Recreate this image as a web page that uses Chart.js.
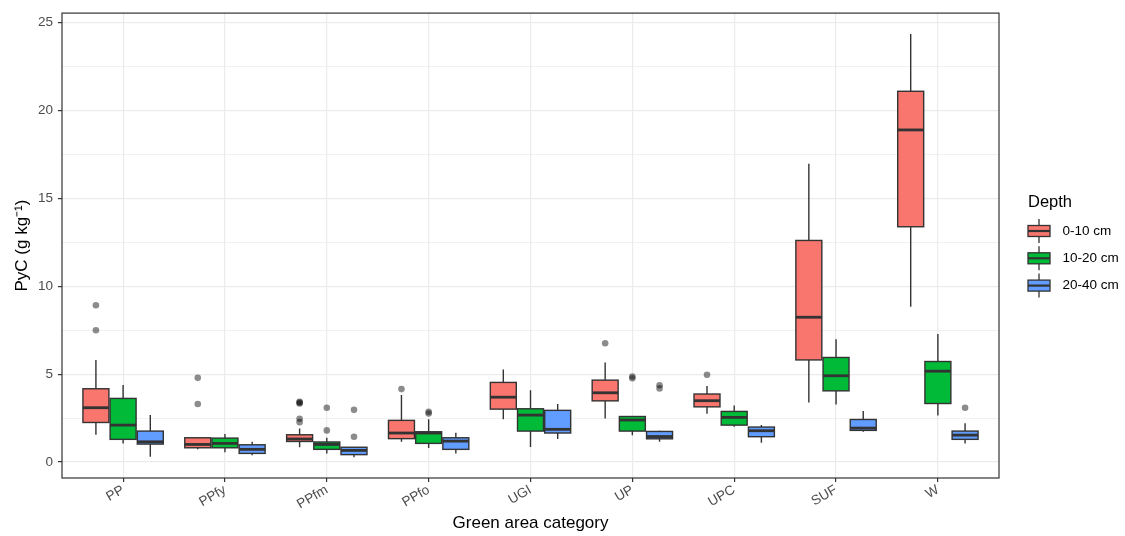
<!DOCTYPE html>
<html><head><meta charset="utf-8">
<script src="https://cdn.jsdelivr.net/npm/chart.js@4.4.1/dist/chart.umd.min.js"></script>
<style>html,body{margin:0;padding:0;background:#fff;} #wrap{width:1125px;height:536px;position:relative;}</style>
</head><body><div id="wrap"><canvas id="c" width="1125" height="536"></canvas></div>
<script>
const CATEGORIES = ['PP','PPfy','PPfm','PPfo','UGI','UP','UPC','SUF','W'];
const DEPTHS = ['0-10 cm','10-20 cm','20-40 cm'];
const Y_TICKS = [0,2.5,5,7.5,10,12.5,15,17.5,20,22.5,25];

// [lower whisker, Q1, median, Q3, upper whisker] per category
const BOX_0_10 = [
  [1.55,2.25,3.09,4.17,5.80],
  [0.72,0.81,1.00,1.38,1.40],
  [0.84,1.17,1.31,1.55,1.91],
  [1.15,1.33,1.65,2.37,3.81],
  [2.44,3.01,3.69,4.53,5.27],
  [2.48,3.48,3.94,4.66,5.66],
  [2.75,3.14,3.49,3.87,4.33],
  [3.39,5.81,8.24,12.61,16.97],
  [8.83,13.39,18.90,21.10,24.36]
];
const BOX_10_20 = [
  [1.06,1.29,2.10,3.62,4.39],
  [0.55,0.81,1.06,1.36,1.59],
  [0.49,0.72,1.00,1.14,1.38],
  [0.80,1.06,1.65,1.72,2.44],
  [0.85,1.76,2.67,3.03,4.09],
  [1.53,1.76,2.39,2.59,2.62],
  [2.01,2.10,2.54,2.88,3.22],
  [3.28,4.05,4.91,5.95,6.99],
  [2.65,3.33,5.17,5.72,7.29]
];
const BOX_20_40 = [
  [0.30,1.02,1.15,1.76,2.67],
  [0.38,0.49,0.72,0.98,1.15],
  [0.27,0.42,0.66,0.84,0.86],
  [0.49,0.72,1.19,1.38,1.67],
  [1.31,1.65,1.86,2.94,3.30],
  [1.15,1.32,1.45,1.74,1.78],
  [1.10,1.44,1.78,1.99,2.10],
  [1.72,1.80,1.93,2.42,2.90],
  [1.06,1.29,1.53,1.76,2.20]
];
// outliers per category
const OUT_0_10 = [[8.92,7.50],[4.79,3.30],[3.43,3.38,3.33,2.46,2.27],[4.15],[],[6.76],[4.96],[],[]];
const OUT_10_20 = [[],[],[3.09,1.80],[2.86,2.76],[],[4.87,4.77],[],[],[]];
const OUT_20_40 = [[],[],[2.97,1.44],[],[],[4.37,4.19],[],[],[3.09]];

const COLORS = ['#F8766D','#00BA38','#619CFF'];
const BOXES = [BOX_0_10, BOX_10_20, BOX_20_40];
const OUTS = [OUT_0_10, OUT_10_20, OUT_20_40];
const DODGE = [-0.267, 0, 0.267];
const BOX_WIDTH = 0.255;
const LINE = '#333333';
const FONT = "'Liberation Sans', Arial, sans-serif";

const datasets = OUTS.map((series, d) => ({
  label: DEPTHS[d] + ' outliers',
  data: series.flatMap((vals, i) => vals.map(v => ({x: i + 1 + DODGE[d], y: v}))),
  pointRadius: 3.3,
  pointHoverRadius: 3.3,
  backgroundColor: 'rgba(0,0,0,0.45)',
  borderWidth: 0,
  showLine: false
}));

const boxPlugin = {
  id: 'boxes',
  beforeDatasetsDraw(chart) {
    const {ctx, scales: {x, y}} = chart;
    const unit = x.getPixelForValue(1) - x.getPixelForValue(0);
    const half = BOX_WIDTH * unit / 2;
    BOXES.forEach((series, d) => {
      series.forEach((b, i) => {
        const cx = x.getPixelForValue(i + 1 + DODGE[d]);
        const [lo, q1, med, q3, hi] = b.map(v => y.getPixelForValue(v));
        ctx.save();
        ctx.strokeStyle = LINE;
        ctx.lineWidth = 1.4;
        ctx.beginPath();
        ctx.moveTo(cx, hi); ctx.lineTo(cx, q3);
        ctx.moveTo(cx, q1); ctx.lineTo(cx, lo);
        ctx.stroke();
        ctx.fillStyle = COLORS[d];
        ctx.fillRect(cx - half, q3, 2 * half, q1 - q3);
        ctx.strokeRect(cx - half, q3, 2 * half, q1 - q3);
        ctx.lineWidth = 2.8;
        ctx.beginPath();
        ctx.moveTo(cx - half, med); ctx.lineTo(cx + half, med);
        ctx.stroke();
        ctx.restore();
      });
    });
  },
  afterDraw(chart) {
    const {ctx, chartArea: a} = chart;
    ctx.save();
    ctx.strokeStyle = LINE;
    ctx.lineWidth = 1.2;
    ctx.strokeRect(a.left, a.top, a.right - a.left, a.bottom - a.top);
    // legend
    ctx.fillStyle = '#000';
    ctx.font = '16.5px ' + FONT;
    ctx.textAlign = 'left';
    ctx.textBaseline = 'alphabetic';
    ctx.fillText('Depth', 1028, 206.5);
    DEPTHS.forEach((lab, d) => {
      const cy = 231 + d * 27.3;
      const kx = 1028, kw = 22;
      ctx.strokeStyle = LINE;
      ctx.lineWidth = 1.3;
      ctx.beginPath();
      ctx.moveTo(kx + kw / 2, cy - 12); ctx.lineTo(kx + kw / 2, cy - 5.5);
      ctx.moveTo(kx + kw / 2, cy + 5.5); ctx.lineTo(kx + kw / 2, cy + 12);
      ctx.stroke();
      ctx.fillStyle = COLORS[d];
      ctx.fillRect(kx, cy - 5.5, kw, 11);
      ctx.strokeRect(kx, cy - 5.5, kw, 11);
      ctx.lineWidth = 2.2;
      ctx.beginPath(); ctx.moveTo(kx, cy); ctx.lineTo(kx + kw, cy); ctx.stroke();
      ctx.fillStyle = '#000';
      ctx.font = '13.5px ' + FONT;
      ctx.textBaseline = 'middle';
      ctx.fillText(lab, 1062.5, cy);
    });
    ctx.restore();
  }
};

new Chart(document.getElementById('c'), {
  type: 'scatter',
  data: {datasets},
  plugins: [boxPlugin],
  options: {
    responsive: false,
    animation: false,
    devicePixelRatio: 1,
    layout: {padding: {left: 0, right: 126, top: 12, bottom: 0}},
    plugins: {legend: {display: false}, tooltip: {enabled: false}},
    scales: {
      x: {
        type: 'linear', min: 0.4, max: 9.6,
        afterBuildTicks: (s) => { s.ticks = CATEGORIES.map((c, i) => ({value: i + 1})); },
        afterFit: (s) => { s.height = 58; },
        ticks: {
          autoSkip: false, minRotation: 30, maxRotation: 30, padding: 0,
          color: '#4d4d4d', font: {family: FONT, size: 13.5},
          callback: (v) => CATEGORIES[Math.round(v) - 1] || ''
        },
        grid: {color: '#ebebeb', lineWidth: 1.2, drawTicks: true, tickLength: 4, tickColor: LINE, tickWidth: 1.2},
        border: {display: false},
        title: {display: true, text: 'Green area category', color: '#000', font: {family: FONT, size: 17}, padding: {top: 0, bottom: 2}}
      },
      y: {
        type: 'linear', min: -0.91, max: 25.55,
        afterBuildTicks: (s) => { s.ticks = Y_TICKS.map(v => ({value: v})); },
        afterFit: (s) => { s.width = 62; },
        ticks: {
          autoSkip: false, padding: 5, color: '#4d4d4d', font: {family: FONT, size: 13.5},
          callback: (v) => (v % 5 === 0 ? String(v) : '')
        },
        grid: {
          color: '#ebebeb',
          lineWidth: (c) => (c.tick && c.tick.value % 5 === 0 ? 1.2 : 0.7),
          drawTicks: true, tickLength: 4,
          tickColor: (c) => (c.tick && c.tick.value % 5 === 0 ? LINE : 'rgba(0,0,0,0)'),
          tickWidth: 1.2
        },
        border: {display: false},
        title: {display: true, text: 'PyC (g kg\u207B\u00B9)', color: '#000', font: {family: FONT, size: 17}, padding: {top: 12, bottom: 0}}
      }
    }
  }
});
</script></body></html>
